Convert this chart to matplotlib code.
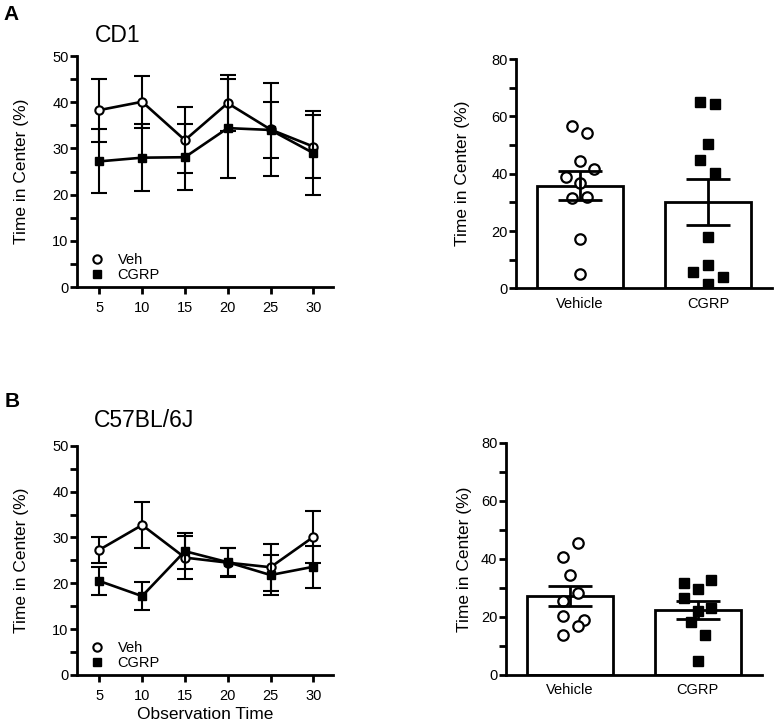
import numpy as np
import matplotlib
matplotlib.use('Agg')
import matplotlib.pyplot as plt
from matplotlib.ticker import MultipleLocator
from matplotlib.lines import Line2D

plt.rcParams['font.family'] = ['Liberation Sans', 'DejaVu Sans']

# time course (minutes)
minutes = [5, 10, 15, 20, 25, 30]

cd1_veh_mean = [38.3, 40.1, 31.8, 39.8, 34.1, 30.4]
cd1_veh_sem = [6.8, 5.6, 7.1, 6.1, 10.0, 6.9]
cd1_cgrp_mean = [27.2, 28.0, 28.1, 34.4, 34.0, 29.0]
cd1_cgrp_sem = [6.9, 7.3, 7.2, 10.7, 6.0, 9.1]

b6_veh_mean = [27.3, 32.7, 25.6, 24.5, 23.5, 30.1]
b6_veh_sem = [2.9, 5.0, 4.7, 3.2, 5.1, 5.7]
b6_cgrp_mean = [20.5, 17.2, 27.0, 24.6, 21.8, 23.6]
b6_cgrp_sem = [3.1, 3.1, 3.9, 3.0, 4.4, 4.6]

# totals
groups = ['Vehicle', 'CGRP']

cd1_bar_mean = [35.8, 30.2]
cd1_bar_sem = [5.0, 8.1]
cd1_veh_pts = [56.6, 54.1, 44.5, 41.6, 39.0, 36.9, 31.6, 31.7, 17.1, 5.0]
cd1_cgrp_pts = [65.0, 64.3, 50.3, 44.8, 40.2, 17.8, 8.0, 5.6, 4.1, 1.4]

b6_bar_mean = [27.2, 22.4]
b6_bar_sem = [3.6, 3.05]
b6_veh_pts = [45.3, 40.8, 34.4, 28.1, 25.6, 20.4, 18.9, 17.0, 13.8]
b6_cgrp_pts = [31.6, 32.7, 29.5, 26.4, 23.2, 22.0, 18.4, 13.7, 4.8]

# horizontal scatter of the dots (as in the picture)
cd1_veh_jit = [-0.06, 0.055, 0.0, 0.107, -0.109, 0.0, -0.06, 0.055, 0.0, 0.0]
cd1_cgrp_jit = [-0.06, 0.055, 0.0, -0.06, 0.055, 0.0, 0.0, -0.115, 0.115, 0.0]
b6_veh_jit = [0.062, -0.052, 0.0, 0.062, -0.052, -0.052, 0.113, 0.062, -0.052]
b6_cgrp_jit = [-0.11, 0.106, 0.0, -0.11, 0.106, 0.0, -0.054, 0.054, 0.0]

LW = 2.0


def style(ax):
    for s in ['top', 'right']:
        ax.spines[s].set_visible(False)
    for s in ['left', 'bottom']:
        ax.spines[s].set_linewidth(LW)
    ax.tick_params(axis='y', which='both', length=5, width=LW, pad=1, labelsize=10.5)


def line_panel(ax, vm, vs, cm, cs, xlabel=None):
    ax.errorbar(minutes, vm, yerr=vs, color='black', lw=1.9, elinewidth=1.5,
                capsize=6, capthick=1.5, marker='o', ms=6, mfc='white', mec='black',
                mew=1.5, zorder=3)
    ax.errorbar(minutes, cm, yerr=cs, color='black', lw=1.9, elinewidth=1.5,
                capsize=6, capthick=1.5, marker='s', ms=5.5, mfc='black', mec='black',
                zorder=4)
    ax.set_xlim(2.4, 32.3)
    ax.set_ylim(0, 50)
    ax.set_xticks(minutes)
    ax.yaxis.set_major_locator(MultipleLocator(10))
    ax.yaxis.set_minor_locator(MultipleLocator(5))
    style(ax)
    ax.tick_params(axis='x', length=5, width=LW, pad=5, labelsize=10.5)
    ax.set_ylabel('Time in Center (%)', fontsize=12.5)
    ax.yaxis.set_label_coords(-0.186, 0.5)
    if xlabel:
        ax.set_xlabel(xlabel, fontsize=12.5)
        ax.xaxis.set_label_coords(0.5, -0.14)
    h = [Line2D([], [], ls='none', marker='o', ms=6, mfc='white', mec='black', mew=1.5),
         Line2D([], [], ls='none', marker='s', ms=5.5, mfc='black', mec='black')]
    ax.legend(h, ['Veh', 'CGRP'], loc='lower left', bbox_to_anchor=(0.05, 0.02),
              frameon=False, borderpad=0, borderaxespad=0, handlelength=1.0,
              handletextpad=0.9, labelspacing=0.1, fontsize=10.5)


def bar_panel(ax, mean, sem, vpts, cpts, vjit, cjit, lab_x):
    x = np.arange(len(groups))
    ax.bar(x, mean, width=0.67, color='white', edgecolor='black', linewidth=LW, zorder=1)
    ax.errorbar(x, mean, yerr=sem, fmt='none', ecolor='black', elinewidth=LW,
                capsize=15.5, capthick=LW, zorder=4)
    ax.plot(x[0] + np.array(vjit), vpts, 'o', ms=7.5, mfc='white', mec='black',
            mew=1.6, ls='none', zorder=3)
    ax.plot(x[1] + np.array(cjit), cpts, 's', ms=6.5, mfc='black', mec='black',
            ls='none', zorder=3)
    ax.set_xlim(-0.5, 1.5)
    ax.set_ylim(0, 80)
    ax.set_xticks(x)
    ax.set_xticklabels(groups)
    ax.yaxis.set_major_locator(MultipleLocator(20))
    ax.yaxis.set_minor_locator(MultipleLocator(10))
    style(ax)
    ax.tick_params(axis='x', length=0, pad=6, labelsize=10.5)
    ax.set_ylabel('Time in Center (%)', fontsize=12.5)
    ax.yaxis.set_label_coords(lab_x, 0.5)


fig = plt.figure(figsize=(7.75, 7.25), dpi=100)

ax1 = fig.add_axes([0.0994, 0.6041, 0.3303, 0.3186])
line_panel(ax1, cd1_veh_mean, cd1_veh_sem, cd1_cgrp_mean, cd1_cgrp_sem)

ax2 = fig.add_axes([0.6658, 0.6023, 0.3303, 0.3163])
bar_panel(ax2, cd1_bar_mean, cd1_bar_sem, cd1_veh_pts, cd1_cgrp_pts,
          cd1_veh_jit, cd1_cgrp_jit, -0.18)

ax3 = fig.add_axes([0.0994, 0.069, 0.3303, 0.3162])
line_panel(ax3, b6_veh_mean, b6_veh_sem, b6_cgrp_mean, b6_cgrp_sem,
           xlabel='Observation Time')

ax4 = fig.add_axes([0.6525, 0.069, 0.3303, 0.3204])
bar_panel(ax4, b6_bar_mean, b6_bar_sem, b6_veh_pts, b6_cgrp_pts,
          b6_veh_jit, b6_cgrp_jit, -0.133)

fig.text(0.004, 0.9724, 'A', fontsize=15, fontweight='bold', va='baseline')
fig.text(0.0065, 0.439, 'B', fontsize=15, fontweight='bold', va='baseline')
fig.text(0.1226, 0.9425, 'CD1', fontsize=16.5, va='baseline')
fig.text(0.1216, 0.4115, 'C57BL/6J', fontsize=16.5, va='baseline')

fig.savefig('out.png', dpi=100)
